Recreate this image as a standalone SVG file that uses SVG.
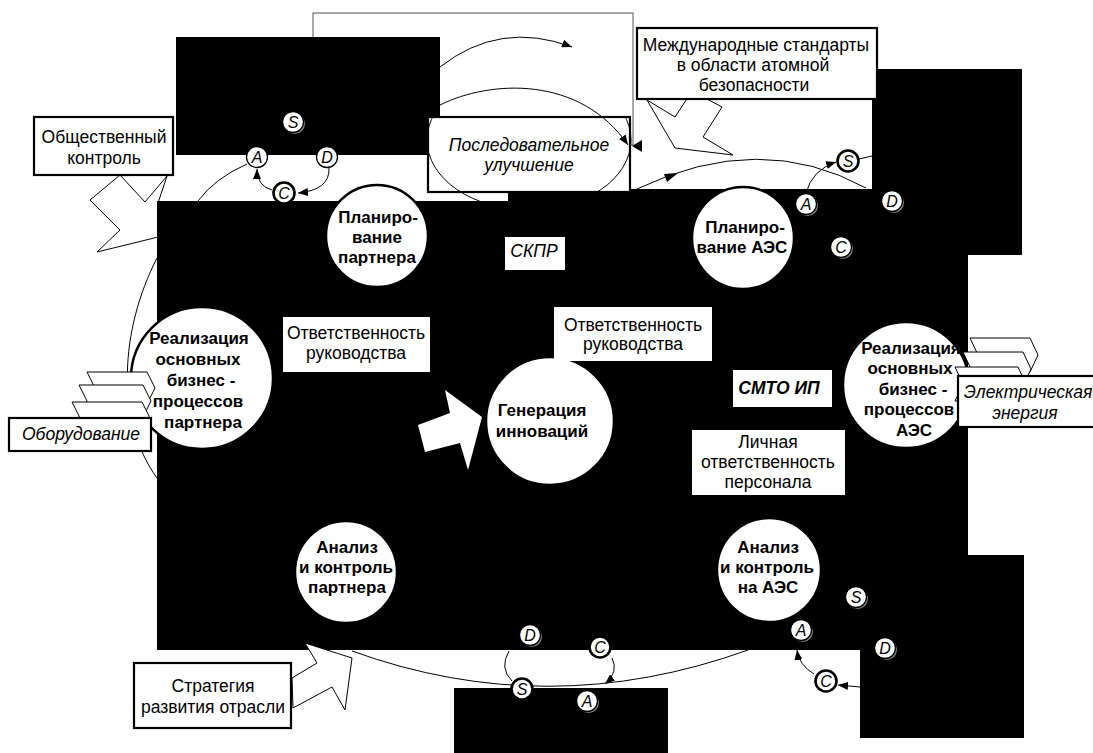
<svg xmlns="http://www.w3.org/2000/svg" width="1093" height="753" viewBox="0 0 1093 753">
<defs>
<style>
.t{font-family:"Liberation Sans",Arial,sans-serif;font-size:17.5px;fill:#000;text-anchor:middle}
.b{font-weight:bold;font-size:17px}
.i{font-style:italic}
.lt{font-style:italic;font-size:16px}
.bx{fill:#fff;stroke:#000;stroke-width:2.2}
.tb{fill:#fff;stroke:none}
.node{fill:#fff;stroke:#000;stroke-width:2.5}
.pc{fill:#fff;stroke:#000;stroke-width:1.3}
.pk{fill:#fff;stroke:#000;stroke-width:2.6}
.sh{fill:#888}
.ln{fill:none;stroke:#000;stroke-width:1}
.ar{fill:#fff;stroke:#000;stroke-width:1}
.blk{fill:#000}
</style>
<marker id="ah" viewBox="0 0 10 8" refX="10" refY="4" markerWidth="10" markerHeight="8" markerUnits="userSpaceOnUse" orient="auto">
<path d="M0,0 L10,4 L0,8 z" fill="#000"/>
</marker>
<clipPath id="ellclip"><polygon points="420,118 632,118 632,192 508,192 508,201 420,201"/></clipPath>
</defs>
<rect x="0" y="0" width="1093" height="753" fill="#fff"/>

<!-- frame -->
<rect x="313" y="13" width="320" height="132" fill="none" stroke="#555" stroke-width="1"/>

<!-- jagged arrows under black -->
<polygon class="ar" points="120,175 145,202 167,176 158,203 195,228 97,252 120,230 90,200"/>
<polygon class="ar" points="647,100 675,117 692,91 722,107 703,137 733,155 675,148"/>

<!-- black areas -->
<g id="black">
<rect class="blk" x="176" y="37" width="264" height="118"/>
<polygon class="blk" points="157,201 508,201 508,189 968,189 968,650 157,650"/>
<rect class="blk" x="872" y="69" width="150" height="186"/>
<rect class="blk" x="860" y="555" width="164" height="183"/>
<rect class="blk" x="454" y="688" width="214" height="65"/>
</g>

<!-- boxes with frames -->
<g id="n-obshch"><rect class="bx" x="34" y="117" width="139" height="58"/>
<text class="t" x="104" y="143">Общественный</text><text class="t" x="104" y="164">контроль</text></g>

<g id="n-mezhd"><rect class="bx" x="637" y="28" width="240" height="71"/>
<text class="t" x="756" y="51">Международные стандарты</text><text class="t" x="753" y="71">в области атомной</text><text class="t" x="754" y="91">безопасности</text></g>

<rect x="428" y="117" width="202" height="75" fill="#fff"/>

<!-- connectors -->
<g id="connectors">
<ellipse class="ln" cx="529" cy="140" rx="102" ry="70" clip-path="url(#ellclip)"/>
<path class="ln" d="M440,67 Q500,20 572,47" marker-end="url(#ah)"/>
<path class="ln" d="M440,105 C490,80 580,75 628,145" marker-end="url(#ah)"/>
<polygon points="632,146 642,140 642,152" fill="#000"/>
<path class="ln" d="M637,189 Q760,130 866,188"/>
<path d="M664,174 L678,173 L667,182 z" fill="#000"/>
<path class="ln" d="M859,159 L872,156"/>
<path class="ln" d="M247,164 Q215,178 198,201"/>
<path class="ln" d="M157,258 C120,330 115,420 157,478"/>
<path class="ln" d="M352,651 Q548,722 748,650"/>
<path class="ln" d="M329,168 Q330,190 298,193" marker-end="url(#ah)"/>
<path class="ln" d="M272,190 Q257,186 257,169" marker-end="url(#ah)"/>
<path class="ln" d="M806,193 Q812,170 836,162" marker-end="url(#ah)"/>
<path class="ln" d="M860,687 L838,685" marker-end="url(#ah)"/>
<path class="ln" d="M814,674 Q799,665 797,650" marker-end="url(#ah)"/>
<path class="ln" d="M509,651 Q499,668 512,681"/>
<path class="ln" d="M612,658 Q619,672 605,684" marker-end="url(#ah)"/>
</g>

<g id="n-posled"><rect x="428" y="117" width="202" height="75" fill="none" stroke="#000" stroke-width="2.2"/>
<text class="t i" x="529" y="151">Последовательное</text><text class="t i" x="529" y="171">улучшение</text></g>

<!-- main nodes -->
<g id="n-plan-p"><circle class="node" cx="377" cy="236" r="51"/>
<text class="t b" x="378" y="223">Планиро-</text><text class="t b" x="377" y="243">вание</text><text class="t b" x="377" y="263">партнера</text></g>

<g id="n-plan-a"><circle class="node" cx="743" cy="238" r="51"/>
<text class="t b" x="745" y="233">Планиро-</text><text class="t b" x="742" y="253">вание АЭС</text></g>

<g id="n-real-p"><circle class="node" cx="202" cy="378" r="71"/>
<text class="t b" x="199" y="344">Реализация</text><text class="t b" x="198" y="365">основных</text><text class="t b" x="201" y="386">бизнес -</text><text class="t b" x="198" y="407">процессов</text><text class="t b" x="203" y="428">партнера</text></g>

<g id="n-gen"><circle class="node" cx="550" cy="421" r="64"/>
<text class="t b" x="542" y="416">Генерация</text><text class="t b" x="542" y="437">инноваций</text></g>

<g id="n-real-a"><circle class="node" cx="906" cy="385" r="63"/>
<text class="t b" x="911" y="354">Реализация</text><text class="t b" x="910" y="374">основных</text><text class="t b" x="913" y="395">бизнес -</text><text class="t b" x="909" y="415">процессов</text><text class="t b" x="914" y="436">АЭС</text></g>

<g id="n-anal-p"><circle class="node" cx="346" cy="572" r="51"/>
<text class="t b" x="347" y="553">Анализ</text><text class="t b" x="346" y="573">и контроль</text><text class="t b" x="347" y="593">партнера</text></g>

<g id="n-anal-a"><circle class="node" cx="769" cy="570" r="52"/>
<text class="t b" x="768" y="553">Анализ</text><text class="t b" x="767" y="573">и контроль</text><text class="t b" x="768" y="593">на АЭС</text></g>

<!-- text boxes on black -->
<g id="n-skpr"><rect class="tb" x="505" y="237" width="60" height="33"/><text class="t i" x="534" y="257">СКПР</text></g>
<g id="n-otv1"><rect class="tb" x="283" y="317" width="147" height="55"/><text class="t" x="356" y="339">Ответственность</text><text class="t" x="356" y="359">руководства</text></g>
<g id="n-otv2"><rect class="tb" x="554" y="307" width="158" height="54"/><text class="t" x="633" y="331">Ответственность</text><text class="t" x="633" y="350">руководства</text></g>
<g id="n-smto"><rect class="tb" x="733" y="370" width="99" height="37"/><text class="t i" x="779" y="394" font-weight="bold">СМТО ИП</text></g>
<g id="n-lich"><rect class="tb" x="692" y="430" width="153" height="65"/><text class="t" x="768" y="448">Личная</text><text class="t" x="768" y="468">ответственность</text><text class="t" x="768" y="488">персонала</text></g>

<!-- big arrow to generation -->
<polygon points="418,425 450,413 445,390 482,417 468,470 460,443 425,452" fill="#fff"/>

<!-- Strategy arrow over black -->
<polygon class="ar" points="292,678 317,663 305,643 352,658 345,710 332,687 293,708"/>
<g id="n-strat"><rect class="bx" x="134" y="663" width="157" height="65"/>
<text class="t" x="213" y="692">Стратегия</text><text class="t" x="213" y="713">развития отрасли</text></g>

<!-- stacked chevrons left -->
<g id="n-oborud">
<polygon class="ar" points="87,372 147,372 155,388 147,404 87,404 95,388"/>
<polygon class="ar" points="79,385 143,385 151,401 143,417 79,417 87,401"/>
<polygon class="ar" points="72,402 142,402 150,418 142,434 72,434 80,418"/>
<rect class="bx" x="9" y="418" width="142" height="33"/>
<text class="t i" x="81" y="440">Оборудование</text></g>

<!-- stacked chevrons right -->
<g id="n-elec">
<polygon class="ar" points="970,338 1030,338 1038,355 1030,372 970,372 978,355"/>
<polygon class="ar" points="963,352 1023,352 1031,369 1023,386 963,386 971,369"/>
<polygon class="ar" points="955,367 1018,367 1026,384 1018,401 955,401 963,384"/>
<rect class="bx" x="958" y="376" width="145" height="51"/>
<text class="t i" x="1028" y="398">Электрическая</text><text class="t i" x="1025" y="419">энергия</text></g>

<!-- PDCA small circles -->
<g id="pdca-tl">
<circle class="sh" cx="294.5" cy="123.5" r="10.5"/><circle class="pc" cx="293" cy="122" r="10.5"/><text class="t lt" x="293" y="128">S</text>
<circle class="pc" cx="257" cy="157" r="10.5"/><text class="t lt" x="257" y="163">A</text>
<circle class="pc" cx="327" cy="157" r="10.5"/><text class="t lt" x="327" y="163">D</text>
<circle class="pk" cx="284" cy="193" r="10.5"/><text class="t lt" x="284" y="199">C</text>
</g>
<g id="pdca-tr">
<circle class="pk" cx="848" cy="161" r="10.5"/><text class="t lt" x="848" y="167">S</text>
<circle class="sh" cx="807.5" cy="205.5" r="10.5"/><circle class="pc" cx="806" cy="204" r="10.5"/><text class="t lt" x="806" y="210">A</text>
<circle class="sh" cx="893.5" cy="202.5" r="10.5"/><circle class="pc" cx="892" cy="201" r="10.5"/><text class="t lt" x="892" y="207">D</text>
<circle class="sh" cx="842.5" cy="248.5" r="10.5"/><circle class="pc" cx="841" cy="247" r="10.5"/><text class="t lt" x="841" y="253">C</text>
</g>
<g id="pdca-bm">
<circle class="sh" cx="531.5" cy="636.5" r="10.5"/><circle class="pc" cx="530" cy="635" r="10.5"/><text class="t lt" x="530" y="641">D</text>
<circle class="pk" cx="600" cy="647" r="10.5"/><text class="t lt" x="600" y="653">C</text>
<circle class="pk" cx="522" cy="689" r="10.5"/><text class="t lt" x="522" y="695">S</text>
<circle class="sh" cx="588.5" cy="702.5" r="10.5"/><circle class="pc" cx="587" cy="701" r="10.5"/><text class="t lt" x="587" y="707">A</text>
</g>
<g id="pdca-br">
<circle class="sh" cx="857.5" cy="598.5" r="10.5"/><circle class="pc" cx="856" cy="597" r="10.5"/><text class="t lt" x="856" y="603">S</text>
<circle class="sh" cx="802.5" cy="631.5" r="10.5"/><circle class="pc" cx="801" cy="630" r="10.5"/><text class="t lt" x="801" y="636">A</text>
<circle class="sh" cx="886.5" cy="649.5" r="10.5"/><circle class="pc" cx="885" cy="648" r="10.5"/><text class="t lt" x="885" y="654">D</text>
<circle class="pk" cx="826" cy="681" r="10.5"/><text class="t lt" x="826" y="687">C</text>
</g>
</svg>
